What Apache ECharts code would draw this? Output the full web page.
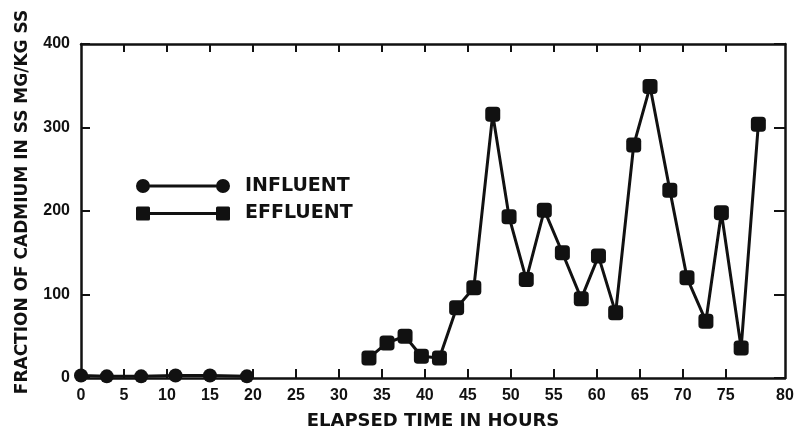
<!DOCTYPE html>
<html>
<head>
<meta charset="utf-8">
<script src="https://cdn.jsdelivr.net/npm/echarts@6/dist/echarts.min.js"></script>
<style>html,body{margin:0;padding:0;background:#fff;}#c{width:800px;height:432px;}</style>
</head>
<body>
<div id="c"></div>
<script>
// Data
const influentHours = [0, 3, 7, 11, 15, 19.3];
const influentValues = [3, 2, 2, 3, 3, 2];
const effluentHours = [33.5, 35.6, 37.7, 39.6, 41.7, 43.7, 45.7, 47.9, 49.8, 51.8, 53.9, 56.0, 58.2, 60.2, 62.2, 64.3, 66.2, 68.5, 70.5, 72.7, 74.5, 76.8, 78.8];
const effluentValues = [24, 42, 50, 26, 24, 84, 108, 316, 193, 118, 201, 150, 95, 146, 78, 279, 349, 225, 120, 68, 198, 36, 304];
const xTickValues = [5, 10, 15, 20, 25, 30, 35, 40, 45, 50, 55, 60, 65, 70, 75];
const xLabelValues = [0, 5, 10, 15, 20, 25, 30, 35, 40, 45, 50, 55, 60, 65, 70, 75, 81.9];
const xLabelTexts = ['0','5','10','15','20','25','30','35','40','45','50','55','60','65','70','75','80'];

const INK = '#111';
const wordFont = 'DejaVu Sans';
const digitFont = 'Liberation Sans';

const influentData = influentHours.map((h, i) => [h, influentValues[i]]);
const effluentData = effluentHours.map((h, i) => [h, effluentValues[i]]);

const chart = echarts.init(document.getElementById('c'), null, {renderer: 'canvas'});
chart.setOption({
  backgroundColor: '#fff',
  animation: false,
  grid: {left: 81, right: 15, top: 44, bottom: 54, containLabel: false, outerBoundsMode: 'none'},
  legend: {
    orient: 'vertical',
    left: 136,
    top: 176.5,
    padding: 0,
    itemWidth: 94,
    itemHeight: 14,
    itemGap: 8.5,
    selectedMode: false,
    textStyle: {fontFamily: wordFont, fontWeight: 'bold', fontSize: 19, color: INK, padding: [0, 0, 0, 10]},
    data: [
      {name: 'INFLUENT', icon: 'path://M0,7A7,7 0 1,1 14,7A7,7 0 1,1 0,7Z M7,5.5H87V8.5H7Z M80,7A7,7 0 1,1 94,7A7,7 0 1,1 80,7Z'},
      {name: 'EFFLUENT', icon: 'path://M1.5,0H12.5Q14,0 14,1.5V12.5Q14,14 12.5,14H1.5Q0,14 0,12.5V1.5Q0,0 1.5,0Z M7,5.5H87V8.5H7Z M81.5,0H92.5Q94,0 94,1.5V12.5Q94,14 92.5,14H81.5Q80,14 80,12.5V1.5Q80,0 81.5,0Z'}
    ]
  },
  xAxis: [
    {
      type: 'value', position: 'bottom', min: 0, max: 81.9, interval: 5,
      name: 'ELAPSED TIME IN HOURS', nameLocation: 'middle', nameGap: 34,
      nameTextStyle: {fontFamily: wordFont, fontWeight: 'bold', fontSize: 18, color: INK},
      axisLine: {show: true, onZero: false, lineStyle: {color: INK, width: 2.5}},
      axisTick: {show: true, inside: true, length: 9, customValues: xTickValues, lineStyle: {color: INK, width: 2}},
      axisLabel: {
        show: true, margin: 10, customValues: xLabelValues,
        fontFamily: digitFont, fontWeight: 'bold', fontSize: 16, color: INK,
        formatter: function (v) { const i = xLabelValues.indexOf(v); return i >= 0 ? xLabelTexts[i] : ''; }
      },
      splitLine: {show: false}
    },
    {
      type: 'value', position: 'top', min: 0, max: 81.9, interval: 5,
      axisLine: {show: true, onZero: false, lineStyle: {color: INK, width: 2.5}},
      axisTick: {show: true, inside: true, length: 8, customValues: xTickValues, lineStyle: {color: INK, width: 2}},
      axisLabel: {show: false},
      splitLine: {show: false}
    }
  ],
  yAxis: [
    {
      type: 'value', position: 'left', min: 0, max: 400, interval: 100,
      name: 'FRACTION OF CADMIUM IN SS MG/KG SS', nameLocation: 'middle', nameGap: 50,
      nameTextStyle: {fontFamily: wordFont, fontWeight: 'bold', fontSize: 17, color: INK, padding: [0, 0, 0, 18]},
      axisLine: {show: true, onZero: false, lineStyle: {color: INK, width: 2.5}},
      axisTick: {show: true, inside: true, length: 9, lineStyle: {color: INK, width: 2}},
      axisLabel: {show: true, margin: 11, fontFamily: digitFont, fontWeight: 'bold', fontSize: 16, color: INK},
      splitLine: {show: false}
    },
    {
      type: 'value', position: 'right', min: 0, max: 400, interval: 100,
      axisLine: {show: true, onZero: false, lineStyle: {color: INK, width: 2.5}},
      axisTick: {show: true, inside: true, length: 11, lineStyle: {color: INK, width: 2}},
      axisLabel: {show: false},
      splitLine: {show: false}
    }
  ],
  series: [
    {
      name: 'INFLUENT', type: 'line', xAxisIndex: 0, yAxisIndex: 0,
      data: influentData, symbol: 'circle', symbolSize: 14, color: INK,
      lineStyle: {color: INK, width: 3}, itemStyle: {color: INK}, z: 3
    },
    {
      name: 'EFFLUENT', type: 'line', xAxisIndex: 0, yAxisIndex: 0,
      data: effluentData, symbol: 'roundRect', symbolSize: 15, color: INK,
      lineStyle: {color: INK, width: 3}, itemStyle: {color: INK}, z: 3
    }
  ]
});
</script>
</body>
</html>
